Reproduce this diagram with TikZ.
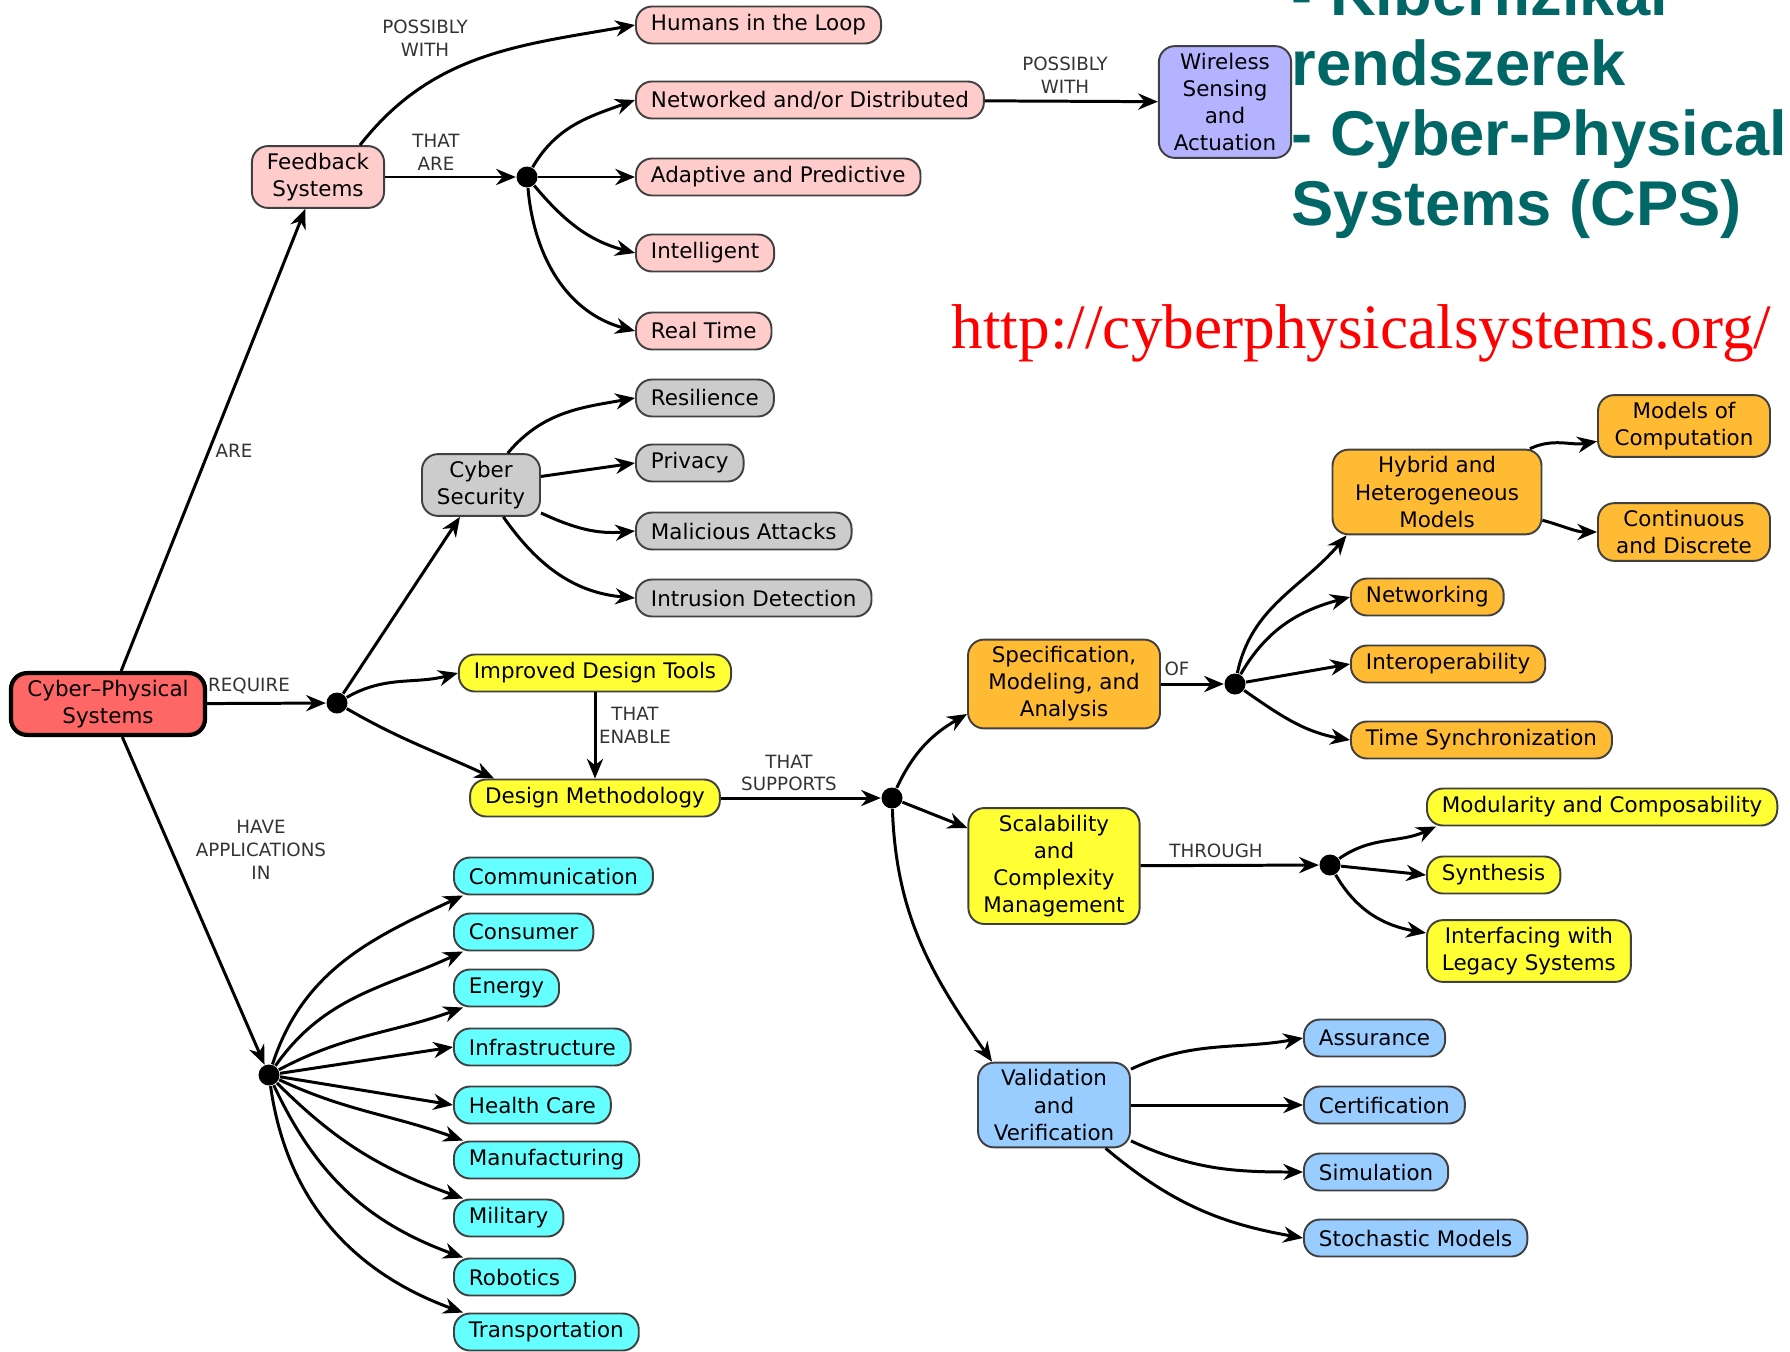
\documentclass[tikz,border=0pt]{standalone}
\usepackage{fontspec}
\setmainfont{DejaVu Sans}
\newfontfamily\titlefont{Liberation Sans}
\newfontfamily\urlfont{Liberation Serif}
\usetikzlibrary{arrows.meta}

\definecolor{cpsred}{RGB}{255,102,102}
\definecolor{fbpink}{RGB}{255,204,204}
\definecolor{wslilac}{RGB}{179,179,255}
\definecolor{secgray}{RGB}{204,204,204}
\definecolor{dsyellow}{RGB}{255,255,51}
\definecolor{smorange}{RGB}{255,187,51}
\definecolor{appcyan}{RGB}{102,255,255}
\definecolor{vvblue}{RGB}{153,204,255}
\definecolor{titleteal}{RGB}{0,102,102}

\begin{document}
\begin{tikzpicture}[
  concept/.style={draw=black!75,line width=0.55pt,rounded corners=1.6mm,align=center,
    font=\fontsize{6.1}{7.7}\selectfont,inner xsep=1.5mm,inner ysep=0.7mm,minimum height=3.7mm},
  hub/.style={concept,draw=black,line width=1.2pt,fill=cpsred},
  fbbox/.style={concept,fill=fbpink},
  wsbox/.style={concept,fill=wslilac},
  secbox/.style={concept,fill=secgray},
  dsbox/.style={concept,fill=dsyellow},
  smbox/.style={concept,fill=smorange},
  appbox/.style={concept,fill=appcyan},
  vvbox/.style={concept,fill=vvblue},
  joint/.style={circle,fill=black,inner sep=0pt,minimum size=2.1mm},
  link/.style={line width=0.85pt,-{Stealth[length=5.6pt,width=4.6pt]}},
  verb/.style={font=\fontsize{5.2}{6.5}\selectfont,align=center,text=black!80}]
\useasboundingbox (0,0) rectangle (17.90,-13.51);

% title and address
\node[text=titleteal,font=\fontsize{18}{19.9}\titlefont\bfseries,align=left,
  anchor=north west,inner sep=0pt] (title) at (12.91,0.31)
  {- Kiberfizikai\\rendszerek\\- Cyber-Physical\\Systems (CPS)};
\node[text=red,font=\fontsize{18}{20}\urlfont,anchor=base west,inner sep=0pt] (url)
  at (9.51,-3.48) {http://cyberphysicalsystems.org/};

% root
\node[hub,minimum width=1.94cm] (cps) at (1.08,-7.04) {Cyber–Physical\\Systems};

% feedback
\node[fbbox,minimum width=1.32cm] (fb) at (3.18,-1.77) {Feedback\\Systems};
\node[joint] (fbdot) at (5.27,-1.77) {};
\node[fbbox,anchor=west] (humans) at (6.35,-0.25) {Humans in the Loop};
\node[fbbox,anchor=west] (netw) at (6.35,-1.00) {Networked and/or Distributed};
\node[fbbox,anchor=west] (adapt) at (6.35,-1.77) {Adaptive and Predictive};
\node[fbbox,anchor=west] (intel) at (6.35,-2.53) {Intelligent};
\node[fbbox,anchor=west] (realt) at (6.35,-3.31) {Real Time};
\node[wsbox,minimum width=1.31cm] (wsa) at (12.25,-1.02) {Wireless\\Sensing\\and\\Actuation};

% security
\node[secbox,minimum width=1.12cm] (csec) at (4.81,-4.85) {Cyber\\Security};
\node[secbox,anchor=west] (resil) at (6.35,-3.98) {Resilience};
\node[secbox,anchor=west] (priv) at (6.35,-4.63) {Privacy};
\node[secbox,anchor=west] (malic) at (6.35,-5.31) {Malicious Attacks};
\node[secbox,anchor=west] (intru) at (6.35,-5.98) {Intrusion Detection};

% design
\node[joint] (reqdot) at (3.37,-7.03) {};
\node[dsbox] (tools) at (5.95,-6.73) {Improved Design Tools};
\node[dsbox] (method) at (5.95,-7.98) {Design Methodology};
\node[joint] (supdot) at (8.92,-7.98) {};

% specification
\node[smbox,minimum width=1.92cm] (spec) at (10.64,-6.84) {Specification,\\Modeling, and\\Analysis};
\node[joint] (ofdot) at (12.35,-6.84) {};
\node[smbox,minimum width=2.09cm] (hybrid) at (14.37,-4.92) {Hybrid and\\Heterogeneous\\Models};
\node[smbox,minimum width=1.72cm] (moc) at (16.84,-4.26) {Models of\\Computation};
\node[smbox,minimum width=1.72cm] (contd) at (16.84,-5.32) {Continuous\\and Discrete};
\node[smbox,anchor=west] (netwk) at (13.50,-5.97) {Networking};
\node[smbox,anchor=west] (inter) at (13.50,-6.64) {Interoperability};
\node[smbox,anchor=west] (tsync) at (13.50,-7.40) {Time Synchronization};

% scalability
\node[dsbox,minimum width=1.71cm] (scal) at (10.54,-8.66) {Scalability\\and\\Complexity\\Management};
\node[joint] (thrdot) at (13.30,-8.65) {};
\node[dsbox,anchor=west] (modul) at (14.26,-8.07) {Modularity and Composability};
\node[dsbox,anchor=west] (synth) at (14.26,-8.75) {Synthesis};
\node[dsbox,anchor=west] (legacy) at (14.26,-9.51) {Interfacing with\\Legacy Systems};

% validation
\node[vvbox,minimum width=1.52cm] (valid) at (10.54,-11.05) {Validation\\and\\Verification};
\node[vvbox,anchor=west] (assur) at (13.03,-10.38) {Assurance};
\node[vvbox,anchor=west] (certi) at (13.03,-11.05) {Certification};
\node[vvbox,anchor=west] (simul) at (13.03,-11.72) {Simulation};
\node[vvbox,anchor=west] (stoch) at (13.03,-12.38) {Stochastic Models};

% applications
\node[joint] (appdot) at (2.69,-10.75) {};
\node[appbox,anchor=west] (comm) at (4.53,-8.76) {Communication};
\node[appbox,anchor=west] (cons) at (4.53,-9.32) {Consumer};
\node[appbox,anchor=west] (ener) at (4.53,-9.88) {Energy};
\node[appbox,anchor=west] (infr) at (4.53,-10.47) {Infrastructure};
\node[appbox,anchor=west] (heal) at (4.53,-11.05) {Health Care};
\node[appbox,anchor=west] (manu) at (4.53,-11.60) {Manufacturing};
\node[appbox,anchor=west] (mili) at (4.53,-12.18) {Military};
\node[appbox,anchor=west] (robo) at (4.53,-12.77) {Robotics};
\node[appbox,anchor=west] (tran) at (4.53,-13.32) {Transportation};

% link words
\node[verb] (l-fbhum) at (4.25,-0.38) {POSSIBLY\\WITH};
\node[verb] (l-fbdot) at (4.36,-1.52) {THAT\\ARE};
\node[verb] (l-wsa) at (10.65,-0.75) {POSSIBLY\\WITH};
\node[verb] (l-are) at (2.34,-4.51) {ARE};
\node[verb] (l-req) at (2.49,-6.86) {REQUIRE};
\node[verb] (l-app) at (2.61,-8.50) {HAVE\\APPLICATIONS\\IN};
\node[verb] (l-enable) at (6.35,-7.25) {THAT\\ENABLE};
\node[verb] (l-supp) at (7.89,-7.73) {THAT\\SUPPORTS};
\node[verb] (l-of) at (11.77,-6.69) {OF};
\node[verb] (l-thr) at (12.16,-8.51) {THROUGH};

% connectors
\draw[link] (cps) -- (fb);
\draw[link] (cps) -- (reqdot);
\draw[link] (cps) -- (appdot);
\draw[link] ([xshift=-2.5mm]fb.north east) to[out=52,in=190] (humans.west);
\draw[link] (fb) -- (fbdot);
\draw[link] (fbdot) to[out=60,in=200] (netw.west);
\draw[link] (fbdot) -- (adapt.west);
\draw[link] (fbdot) to[out=-50,in=165] (intel.west);
\draw[link] (fbdot) to[out=-85,in=165] (realt.west);
\draw[link] (netw) -- (wsa);

\draw[link] (reqdot) -- (csec);
\draw[link] (reqdot) to[out=30,in=195] (tools.west);
\draw[link] (reqdot) to[out=-30,in=155] ([xshift=2.5mm]method.north west);
\draw[link] (csec) to[out=50,in=190] (resil.west);
\draw[link] (csec) -- (priv.west);
\draw[link] (csec) to[out=-25,in=185] (malic.west);
\draw[link] (csec) to[out=-55,in=175] (intru.west);
\draw[link] (tools) -- (method);
\draw[link] (method) -- (supdot);

\draw[link] (supdot) to[out=65,in=210] ([yshift=-3mm]spec.west);
\draw[link] (supdot) -- ([yshift=3.8mm]scal.west);
\draw[link] (supdot) to[out=-88,in=125] ([xshift=1.5mm]valid.north west);
\draw[link] (spec) -- (ofdot);
\draw[link] (ofdot) to[out=78,in=230] ([xshift=1.5mm]hybrid.south west);
\draw[link] (ofdot) to[out=60,in=195] (netwk.west);
\draw[link] (ofdot) -- (inter.west);
\draw[link] (ofdot) to[out=-35,in=170] (tsync.west);
\draw[link] (hybrid) to[out=25,in=190] (moc);
\draw[link] (hybrid) to[out=-15,in=180] (contd);

\draw[link] (scal) -- (thrdot);
\draw[link] (thrdot) to[out=35,in=205] ([xshift=1mm]modul.south west);
\draw[link] (thrdot) -- (synth.west);
\draw[link] (thrdot) to[out=-60,in=170] ([yshift=1.8mm]legacy.west);
\draw[link] (valid) to[out=25,in=190] (assur.west);
\draw[link] (valid) -- (certi);
\draw[link] (valid) to[out=-25,in=180] (simul.west);
\draw[link] (valid) to[out=-40,in=170] (stoch.west);

\draw[link] (appdot) to[out=72,in=205] ([xshift=1mm]comm.south west);
\draw[link] (appdot) to[out=55,in=205] ([xshift=1mm]cons.south west);
\draw[link] (appdot) to[out=28,in=200] ([xshift=1mm]ener.south west);
\draw[link] (appdot) -- (infr.west);
\draw[link] (appdot) -- (heal.west);
\draw[link] (appdot) to[out=-25,in=160] ([xshift=1mm]manu.north west);
\draw[link] (appdot) to[out=-45,in=160] ([xshift=1mm]mili.north west);
\draw[link] (appdot) to[out=-65,in=160] ([xshift=1mm]robo.north west);
\draw[link] (appdot) to[out=-82,in=160] ([xshift=1mm]tran.north west);
\end{tikzpicture}
\end{document}
